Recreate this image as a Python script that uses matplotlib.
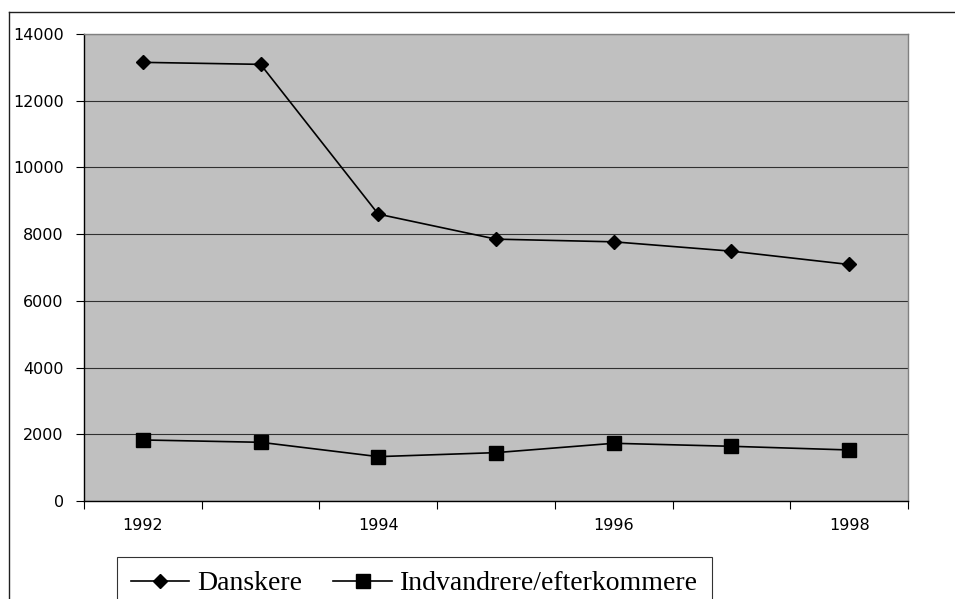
import numpy as np
import matplotlib
matplotlib.use("Agg")
import matplotlib.pyplot as plt
from matplotlib.lines import Line2D

# data
years = ["1992", "1993", "1994", "1995", "1996", "1997", "1998"]
danskere = [13150, 13090, 8600, 7850, 7770, 7490, 7090]
indvandrere = [1830, 1760, 1330, 1450, 1730, 1640, 1530]
yticks = [0, 2000, 4000, 6000, 8000, 10000, 12000, 14000]

W, H = 955, 599
fig = plt.figure(figsize=(W / 100, H / 100), dpi=100)
fig.patch.set_facecolor("white")

# plot area in pixels: left 84, right 908, top 34, bottom 501
ax = fig.add_axes([84 / W, (H - 501) / H, (908 - 84) / W, (501 - 34) / H])
ax.set_facecolor("#c0c0c0")

x = np.arange(len(years))
ax.plot(x, danskere, color="black", lw=1.2, marker="D", ms=7.5,
        label="Danskere", zorder=3)
ax.plot(x, indvandrere, color="black", lw=1.2, marker="s", ms=10,
        label="Indvandrere/efterkommere", zorder=3)

ax.set_xlim(-0.5, len(years) - 0.5)
ax.set_ylim(0, 14000)

# category axis: ticks between categories, label every second year
ax.set_xticks(x[::2])
ax.set_xticklabels(years[::2])
ax.set_xticks(np.arange(-0.5, len(years), 1.0), minor=True)
ax.tick_params(axis="x", which="major", length=0, pad=12.5)
ax.tick_params(axis="x", which="minor", length=6, width=0.8, color="black")

ax.set_yticks(yticks)
ax.set_yticklabels([str(v) for v in yticks])
ax.tick_params(axis="y", length=6, width=0.8, color="black", pad=8.5)

for lab in ax.get_xticklabels() + ax.get_yticklabels():
    lab.set_fontfamily("DejaVu Sans")
    lab.set_fontsize(11.5)

ax.yaxis.grid(True, color="#303030", lw=0.8)
ax.set_axisbelow(True)

ax.spines["left"].set_color("black")
ax.spines["bottom"].set_color("black")
ax.spines["top"].set_color("#808080")
ax.spines["right"].set_color("#808080")
for s in ax.spines.values():
    s.set_linewidth(1.0)

# outer chart border (runs off the bottom and right of the picture)
fig.add_artist(Line2D([9 / W, 1.0], [(H - 12) / H, (H - 12) / H],
                      transform=fig.transFigure, color="#202020", lw=1.0))
fig.add_artist(Line2D([9 / W, 9 / W], [(H - 12) / H, 0.0],
                      transform=fig.transFigure, color="#202020", lw=1.0))

leg = fig.legend(loc="upper left",
                 bbox_to_anchor=(117 / W, 0.0, (712 - 117) / W, (H - 557) / H),
                 mode="expand", ncol=2, frameon=True, fancybox=False,
                 borderaxespad=0, handlelength=2.1, handletextpad=0.3,
                 columnspacing=0.7, borderpad=0.5,
                 prop={"family": "Liberation Serif", "size": 20})
leg.get_frame().set_edgecolor("black")
leg.get_frame().set_linewidth(0.8)

fig.savefig("out.png", dpi=100)
